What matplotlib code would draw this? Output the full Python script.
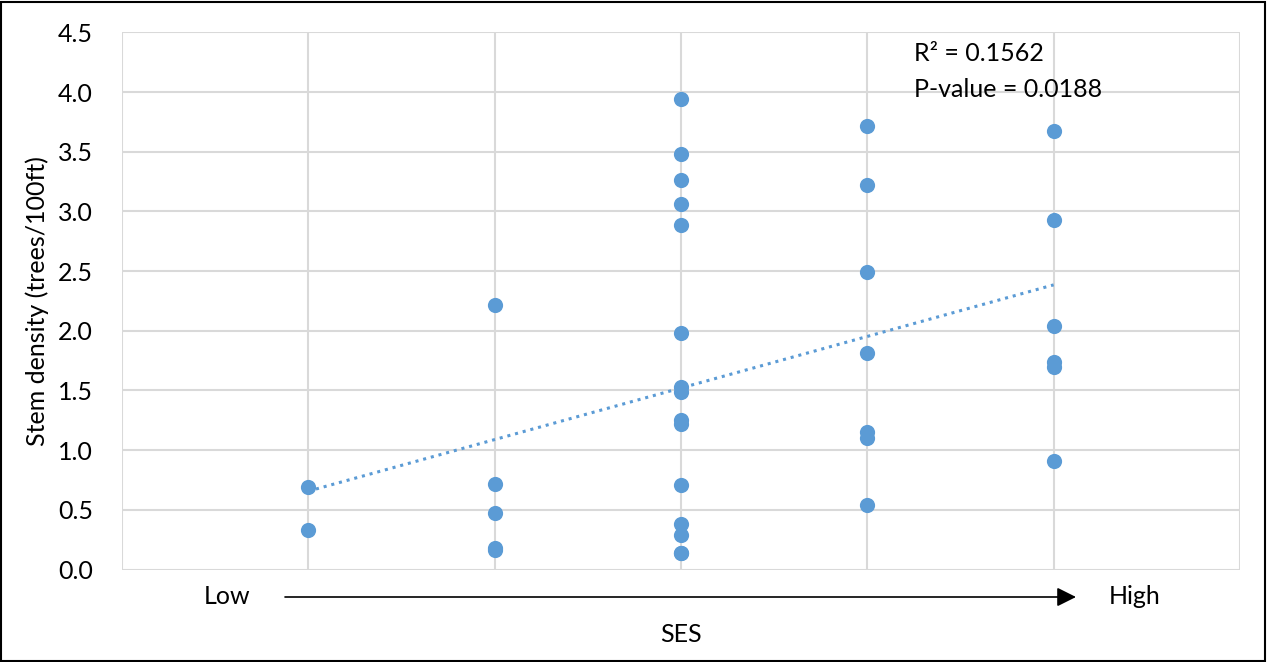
import numpy as np
import matplotlib.pyplot as plt
from matplotlib.patches import Rectangle

# SES level (1 = low ... 5 = high) and stem density per site
# (one site at level 3 sits under another marker; n = 35 matches the p-value)
ses_level = [1, 1,
             2, 2, 2, 2, 2,
             3, 3, 3, 3, 3, 3, 3, 3, 3, 3, 3, 3, 3, 3, 3,
             4, 4, 4, 4, 4, 4, 4,
             5, 5, 5, 5, 5, 5]
stem_density = [0.69, 0.33,
                2.22, 0.72, 0.47, 0.18, 0.16,
                3.94, 3.48, 3.26, 3.06, 2.89, 1.98, 1.53, 1.49, 1.25, 1.22, 0.71, 0.38, 0.29, 0.14, 0.14,
                3.72, 3.22, 2.49, 1.81, 1.15, 1.10, 0.54,
                3.67, 2.93, 2.04, 1.74, 1.70, 0.91]

r2_text = "R² = 0.1562"
p_text = "P-value = 0.0188"
y_ticks = [0.0, 0.5, 1.0, 1.5, 2.0, 2.5, 3.0, 3.5, 4.0, 4.5]

plt.rcParams['font.family'] = ['Lato', 'DejaVu Sans']
blue = '#5b9bd5'
grid_c = '#d9d9d9'
fs = 18

fig = plt.figure(figsize=(12.68, 6.62), dpi=100)
ax = fig.add_axes([0.0962, 0.1397, 0.8817, 0.8113])

x = np.array(ses_level, dtype=float)
y = np.array(stem_density)

ax.scatter(x, y, s=120, color=blue, zorder=3, linewidths=0)

# linear trendline, fitted to the data
slope, intercept = np.polyfit(x, y, 1)
xs = np.array([x.min(), x.max()])
ax.plot(xs, slope * xs + intercept, color=blue, lw=2.2, ls=(0, (1, 1.6)), zorder=2)

ax.set_xlim(0, 6)
ax.set_ylim(0, 4.5)
ax.set_xticks(range(0, 7))
ax.set_xticklabels([])
ax.set_yticks(y_ticks)
ax.set_yticklabels([f"{v:.1f}" for v in y_ticks], fontsize=fs)
ax.tick_params(length=0, axis='y', pad=21)
ax.tick_params(length=0, axis='x')
ax.grid(True, color=grid_c, lw=1.5)
ax.set_axisbelow(True)
for s in ax.spines.values():
    s.set_visible(False)

ax.set_ylabel("Stem density (trees/100ft)", fontsize=fs, labelpad=6)

ax.text(4.25, 4.32, r2_text, fontsize=fs, va='center')
ax.text(4.25, 4.02, p_text, fontsize=fs, va='center')

# SES axis: Low ---> High
fig.text(227 / 1268, 1 - 596 / 662, "Low", fontsize=fs, ha='center', va='center')
fig.text(1135 / 1268, 1 - 596 / 662, "High", fontsize=fs, ha='center', va='center')
fig.text(681 / 1268, 1 - 634 / 662, "SES", fontsize=fs, ha='center', va='center')
ax.annotate("", xy=(1076 / 1268, 1 - 597 / 662), xytext=(285 / 1268, 1 - 597 / 662),
            xycoords='figure fraction', textcoords='figure fraction',
            arrowprops=dict(arrowstyle='-|>', mutation_scale=29, lw=1.2, color='black',
                            shrinkA=0, shrinkB=0))

fig.patches.append(Rectangle((0.001, 0.002), 0.997, 0.995, transform=fig.transFigure,
                             fill=False, edgecolor='black', lw=1.5))

fig.savefig("out.png", dpi=100)
